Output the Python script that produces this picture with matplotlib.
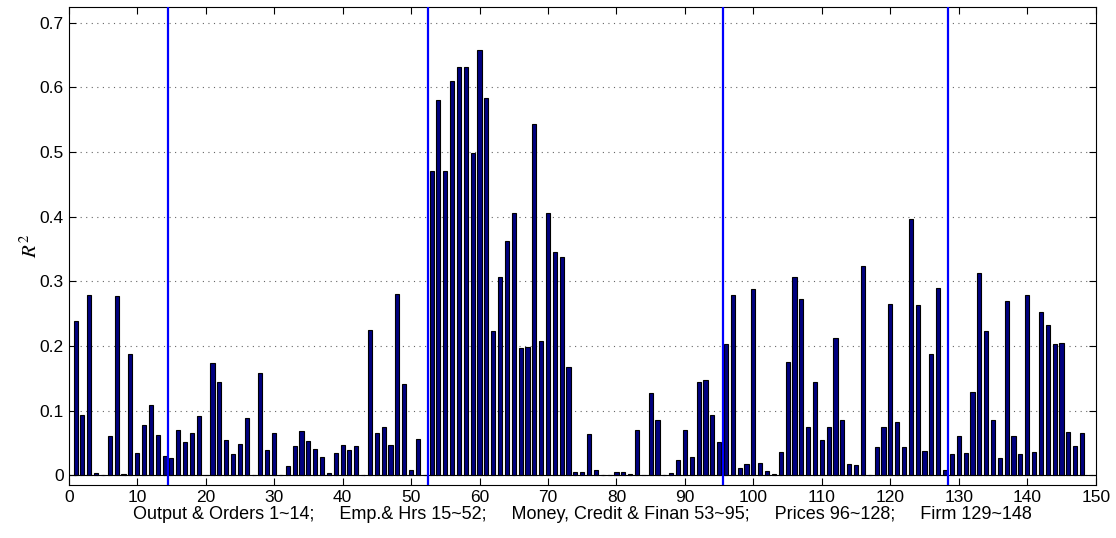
import numpy as np
import matplotlib
matplotlib.use('Agg')
import matplotlib.pyplot as plt

plt.rcParams['font.family'] = ['Liberation Sans', 'DejaVu Sans']
plt.rcParams['mathtext.fontset'] = 'stix'

# R^2 per series, index 1..148
r2 = [0.239, 0.094, 0.278, 0.003, 0.001, 0.061, 0.277, 0.002, 0.187, 0.035,
      0.077, 0.109, 0.062, 0.030, 0.026, 0.070, 0.051, 0.066, 0.091, 0.000,
      0.173, 0.144, 0.055, 0.033, 0.049, 0.088, 0.001, 0.158, 0.039, 0.065,
      0.000, 0.015, 0.045, 0.069, 0.053, 0.041, 0.028, 0.004, 0.035, 0.047,
      0.039, 0.046, 0.001, 0.225, 0.065, 0.074, 0.047, 0.280, 0.141, 0.008,
      0.056, 0.000, 0.471, 0.580, 0.471, 0.610, 0.632, 0.631, 0.498, 0.658,
      0.583, 0.223, 0.307, 0.363, 0.405, 0.197, 0.198, 0.543, 0.207, 0.405,
      0.345, 0.338, 0.167, 0.005, 0.005, 0.064, 0.008, 0.001, 0.001, 0.005,
      0.005, 0.002, 0.070, 0.000, 0.128, 0.086, 0.001, 0.004, 0.023, 0.070,
      0.028, 0.145, 0.147, 0.094, 0.052, 0.203, 0.278, 0.012, 0.018, 0.288,
      0.019, 0.006, 0.0015, 0.036, 0.175, 0.306, 0.272, 0.075, 0.145, 0.055,
      0.074, 0.213, 0.086, 0.018, 0.016, 0.323, 0.001, 0.044, 0.074, 0.265,
      0.083, 0.044, 0.397, 0.264, 0.038, 0.188, 0.289, 0.008, 0.033, 0.060,
      0.035, 0.129, 0.312, 0.223, 0.086, 0.026, 0.270, 0.060, 0.033, 0.279,
      0.036, 0.253, 0.233, 0.203, 0.204, 0.067, 0.046, 0.066]

# group boundaries (last index of each group + 0.5)
bounds = [14.5, 52.5, 95.5, 128.5]
groups = ['Output & Orders 1~14;', 'Emp.& Hrs 15~52;',
          'Money, Credit & Finan 53~95;', 'Prices 96~128;', 'Firm 129~148']

idx = np.arange(1, len(r2) + 1)

fig = plt.figure(figsize=(11.16, 5.38), dpi=100)
ax = fig.add_axes([0.0616, 0.0985, 0.9202, 0.8885])

ax.bar(idx, r2, width=0.6, color='#000080', edgecolor='black', linewidth=0.8, zorder=3)
ax.axhline(0, color='black', linewidth=0.8, zorder=4)
for b in bounds:
    ax.axvline(b, color='#0000ff', linewidth=1.6, zorder=5)

ax.set_xlim(0, 150)
ax.set_ylim(-0.015, 0.724)
ax.set_xticks(np.arange(0, 151, 10))
ax.set_yticks(np.arange(0, 0.71, 0.1))
ax.set_yticklabels(['0', '0.1', '0.2', '0.3', '0.4', '0.5', '0.6', '0.7'])
ax.yaxis.grid(True, linestyle=(0, (1, 4)), color='#666666', linewidth=0.8, zorder=0)
ax.tick_params(direction='in', top=True, right=True, labelsize=12.5, length=5, width=0.8)
for s in ax.spines.values():
    s.set_linewidth(0.8)

ax.set_xlabel((' ' * 5).join(groups), fontsize=13, labelpad=1)
ax.set_ylabel(r'$R^2$', fontsize=15, labelpad=-1)

plt.savefig('out.png', dpi=100)
